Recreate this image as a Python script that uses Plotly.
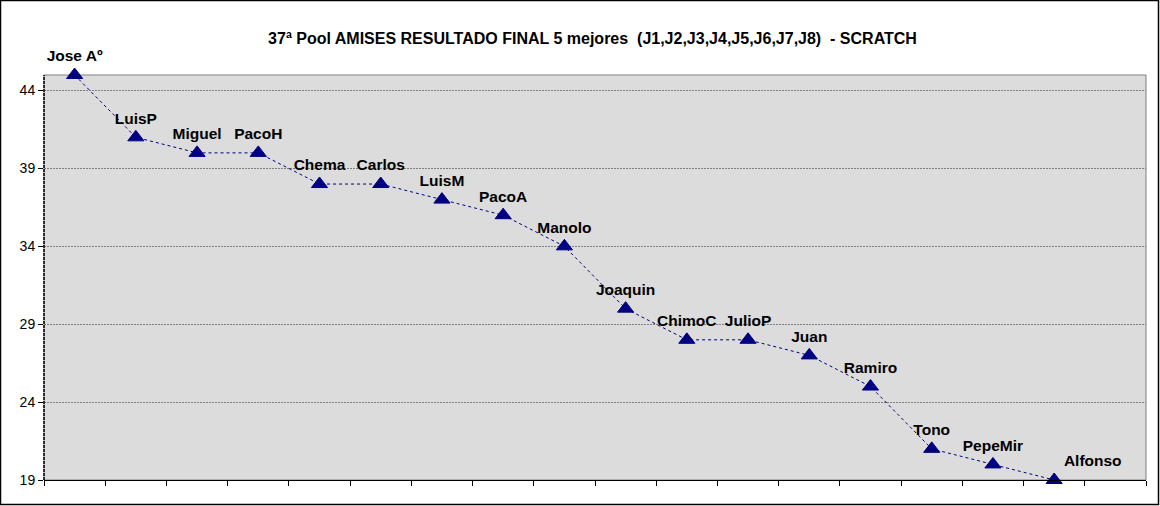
import plotly.graph_objects as go

names = ["Jose Aº", "LuisP", "Miguel", "PacoH", "Chema", "Carlos", "LuisM", "PacoA",
         "Manolo", "Joaquin", "ChimoC", "JulioP", "Juan", "Ramiro", "Tono", "PepeMir", "Alfonso"]
scores = [45, 41, 40, 40, 38, 38, 37, 36, 34, 30, 28, 28, 27, 25, 21, 20, 19]
slots = names + [" "]          # the chart keeps one empty slot at the end
y_ticks = [19, 24, 29, 34, 39, 44]

title = "37ª Pool AMISES RESULTADO FINAL 5 mejores  (J1,J2,J3,J4,J5,J6,J7,J8)  - SCRATCH"

W, H = 1160, 506
L, R, T, B = 44, 14, 75, 26
pw, ph = W - L - R, H - T - B

FONT = "Liberation Sans, Arial, sans-serif"
NAVY = "#000080"

label_pos = ["top center"] * (len(names) - 1) + ["top right"]

fig = go.Figure()
fig.add_trace(go.Scatter(
    x=names, y=scores, mode="lines+markers+text",
    text=names, textposition=label_pos,
    textfont=dict(family=FONT, size=15.5, color="black", weight="bold"),
    line=dict(color=NAVY, width=1, dash="dot"),
    marker=dict(symbol="triangle-up", size=14, color=NAVY, line=dict(color=NAVY, width=1)),
    cliponaxis=False, showlegend=False,
))

fig.update_layout(
    width=W, height=H,
    margin=dict(l=L, r=R, t=T, b=B, pad=0),
    paper_bgcolor="white", plot_bgcolor="#DCDCDC",
    font=dict(family=FONT, color="black"),
    title=dict(text=title, x=592.5 / W, xanchor="center", y=1 - 38 / H, yanchor="middle",
               font=dict(family=FONT, size=16, color="black", weight="bold")),
    xaxis=dict(type="category", categoryorder="array", categoryarray=slots,
               range=[-0.5, len(slots) - 0.5], tickson="boundaries",
               showticklabels=False, ticks="outside", ticklen=5, tickcolor="black",
               showgrid=False, showline=True, linecolor="black", linewidth=1, zeroline=False),
    yaxis=dict(range=[19, 45], tickmode="array", tickvals=y_ticks,
               ticks="outside", ticklen=5, tickcolor="black",
               tickfont=dict(family=FONT, size=14, color="black"),
               showgrid=True, gridcolor="#7F7F7F", griddash="2px,1px", gridwidth=1,
               showline=False, zeroline=False),
    shapes=[
        # plot-area frame (top / right in gray)
        dict(type="rect", xref="paper", yref="paper", x0=0, x1=1, y0=0, y1=1,
             line=dict(color="#808080", width=1), layer="below"),
        # left axis drawn as a dashed black line
        dict(type="line", xref="paper", yref="paper", x0=0, x1=0, y0=0, y1=1,
             line=dict(color="black", width=1.5, dash="3px,1px")),
        # outer chart border
        dict(type="rect", xref="paper", yref="paper",
             x0=-(L - 0.5) / pw, x1=1 + (R - 1.5) / pw,
             y0=-(B - 1.5) / ph, y1=1 + (T - 0.5) / ph,
             line=dict(color="black", width=1.5)),
    ],
)

fig.write_html("out.html", config={"displayModeBar": False},
               post_script="document.body.style.margin='0';document.body.style.padding='0';")
